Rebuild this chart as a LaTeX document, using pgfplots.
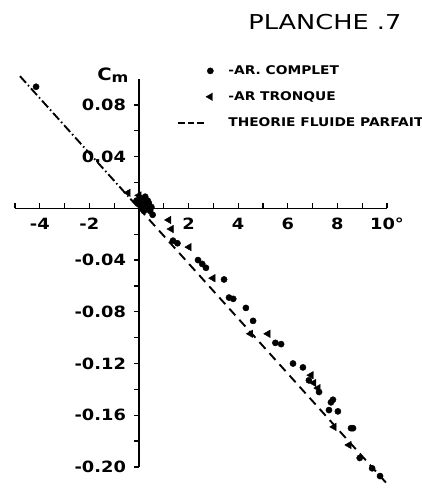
\documentclass[border=0pt]{standalone}
\usepackage{fontspec}
\setmainfont{DejaVu Sans}
\newfontfamily\leroy[FakeStretch=1.15]{DejaVu Sans}
\newfontfamily\titlefont[FakeStretch=1.25]{DejaVu Sans}
\usepackage{pgfplots}
\usepackage{pgfplotstable}
\pgfplotsset{compat=1.18}
\pgfplotsset{
  legmark/.style={legend image code/.code={\path[draw=none,fill=none] (0pt,-4pt) rectangle (36pt,4pt); \draw[##1] plot coordinates {(32pt,0pt)};}},
  legline/.style={legend image code/.code={\path[draw=none,fill=none] (0pt,-4pt) rectangle (36pt,4pt); \draw[##1, dash pattern=on 6.5pt off 3pt] (0pt,0pt) -- (25.5pt,0pt);}},
}

\pgfplotstableread{
x y
-4.15 0.094
0.05 0.008
0.15 0.004
0.30 0.002
0.45 -0.002
0.55 -0.005
0.10 0.000
0.35 0.006
-0.10 0.006
0.00 0.003
0.20 -0.002
0.40 0.004
0.50 0.001
0.25 0.009
1.37 -0.025
1.55 -0.027
2.38 -0.040
2.55 -0.043
2.70 -0.046
3.43 -0.055
3.63 -0.069
3.80 -0.070
4.31 -0.077
4.60 -0.087
5.50 -0.104
5.73 -0.105
6.21 -0.120
6.61 -0.123
6.85 -0.133
7.26 -0.142
7.74 -0.150
7.82 -0.148
7.66 -0.156
8.02 -0.157
8.55 -0.170
8.63 -0.170
8.90 -0.193
9.40 -0.201
9.72 -0.207
}\complet

\pgfplotstableread{
x y
-0.44 0.012
0.00 0.010
0.20 0.008
0.30 0.000
1.20 -0.009
1.30 -0.016
2.02 -0.030
2.98 -0.054
4.50 -0.097
5.20 -0.097
6.94 -0.129
7.05 -0.135
7.22 -0.139
7.86 -0.169
8.47 -0.183
}\tronque

\pgfplotstableread{
x y
-4.80 0.1022
0 0
}\theoA

\pgfplotstableread{
x y
0 0
10.10 -0.2151
}\theoB

\begin{document}
\begin{tikzpicture}
\path[use as bounding box] (-15pt,-21pt) rectangle (407pt,467pt);
\begin{axis}[
  at={(0,0)}, anchor=south west,
  scale only axis, width=372pt, height=388pt,
  xmin=-5, xmax=10, ymin=-0.2, ymax=0.1,
  axis lines=middle,
  axis line style={-, line width=1.4pt},
  clip=false,
  xtick={-4,-2,2,4,6,8,10},
  xticklabels={-4,-2,2,4,6,8,10°},
  minor xtick={-5,-3,-1,1,3,5,7,9},
  ytick={-0.2,-0.16,-0.12,-0.08,-0.04,0.04,0.08},
  yticklabels={-0.20,-0.16,-0.12,-0.08,-0.04,0.04,0.08},
  minor ytick={-0.18,-0.14,-0.10,-0.06,-0.02,0.02,0.06},
  major tick length=5pt, minor tick length=5pt,
  every tick/.style={black, line width=1.3pt},
  xtick style={yshift=2.5pt},
  ytick style={xshift=-2.5pt},
  /pgf/number format/assume math mode=true,
  ticklabel style={font=\leroy\bfseries\fontsize{15.5}{16}\selectfont},
  xticklabel style={yshift=-4pt},
  yticklabel style={xshift=-7pt},
  ylabel={\leroy\bfseries\fontsize{17}{17}\selectfont C\raisebox{-2.5pt}{\fontsize{14}{14}\selectfont m}},
  every axis y label/.style={at={(0.263,1.010)}, anchor=center},
  legend cell align=left,
  legend style={at={(0.436,1.040)}, anchor=north west, draw=none, fill=none,
    inner sep=0pt, row sep=11.5pt,
    font=\leroy\bfseries\fontsize{12}{12}\selectfont,
    /tikz/every odd column/.append style={column sep=12pt}},
]
\addplot[only marks, mark=*, mark size=3.1pt, black, legmark]
  table {\complet};
\addlegendentry{-AR. COMPLET}
\addplot[only marks, mark=triangle*, mark size=4.3pt, mark options={rotate=90}, black, legmark]
  table {\tronque};
\addlegendentry{-AR TRONQUE}
\addplot[black, line width=1.9pt, dash pattern=on 9pt off 6pt, legline]
  table {\theoB};
\addlegendentry{THEORIE FLUIDE PARFAIT}
\addplot[black, line width=1.9pt, dash pattern=on 9pt off 3pt on 1.5pt off 3pt, forget plot]
  table {\theoA};
\node[font=\titlefont\fontsize{20.5}{21}\selectfont, anchor=center] at (rel axis cs:0.833,1.146) {PLANCHE .7};
\end{axis}
\end{tikzpicture}
\end{document}
